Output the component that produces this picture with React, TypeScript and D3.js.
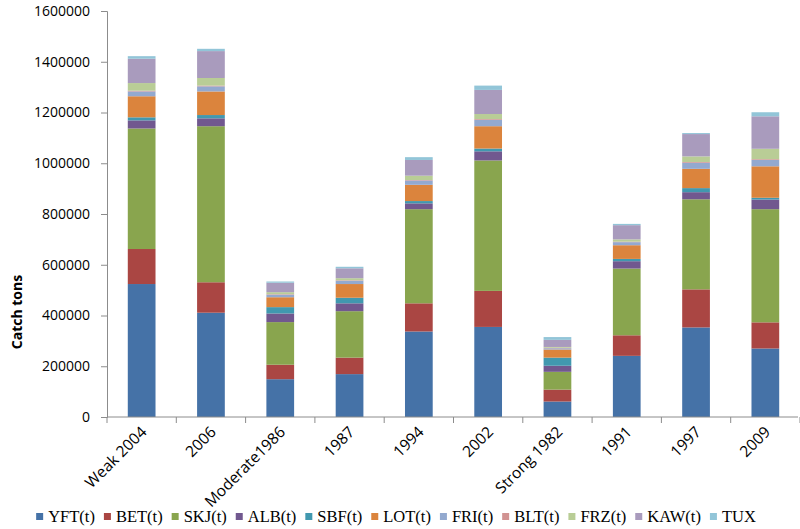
import { useEffect, useRef } from "react";
import * as d3 from "d3";

const categories = ["Weak 2004", "2006", "Moderate1986", "1987", "1994", "2002", "Strong 1982", "1991", "1997", "2009"];

const seriesNames = ["YFT(t)", "BET(t)", "SKJ(t)", "ALB(t)", "SBF(t)", "LOT(t)", "FRI(t)", "BLT(t)", "FRZ(t)", "KAW(t)", "TUX"];

// catch in tons
const YFT = [524000, 411000, 149000, 169000, 337000, 355000, 61000, 241000, 353000, 270000];
const BET = [138000, 120000, 57000, 65000, 111000, 142000, 47000, 81000, 150000, 103000];
const SKJ = [475000, 615000, 168000, 183000, 371000, 514000, 70000, 263000, 355000, 446000];
const ALB = [32000, 31000, 34000, 31000, 23000, 36000, 24000, 29000, 28000, 38000];
const SBF = [12000, 13000, 25000, 22000, 9000, 11000, 32000, 9000, 16000, 7000];
const LOT = [83000, 93000, 39000, 54000, 64000, 88000, 32000, 54000, 76000, 124000];
const FRI = [19000, 20000, 10000, 13000, 17000, 25000, 5000, 12000, 24000, 25000];
const BLT = [3000, 3000, 2000, 2000, 2000, 3000, 2000, 2000, 3000, 3000];
const FRZ = [30000, 30000, 8000, 8000, 17000, 20000, 3000, 9000, 22000, 41000];
const KAW = [96000, 106000, 37000, 39000, 62000, 95000, 28000, 56000, 88000, 128000];
const TUX = [10000, 9000, 5000, 6000, 11000, 17000, 11000, 5000, 4000, 16000];

const yTicks = [0, 200000, 400000, 600000, 800000, 1000000, 1200000, 1400000, 1600000];

const colors = ["#4572A7", "#AA4643", "#89A54E", "#71588F", "#4198AF", "#DB843D", "#93A9CF", "#D19392", "#B9CD96", "#A99BBD", "#92C5D8"];

export default function App() {
  const svgRef = useRef<SVGSVGElement>(null);

  useEffect(() => {
    document.body.style.margin = "0";
    if (!svgRef.current) return;
    const svg = d3.select(svgRef.current);
    svg.selectAll("*").remove();

    const width = 800;
    const height = 529;
    const margin = { left: 107, right: 0, top: 11, bottom: 112 };

    const all = [YFT, BET, SKJ, ALB, SBF, LOT, FRI, BLT, FRZ, KAW, TUX];
    const rows = categories.map((c, i) => {
      const r: Record<string, any> = { cat: c };
      seriesNames.forEach((s, j) => (r[s] = all[j][i]));
      return r;
    });
    const stacked = d3.stack<any>().keys(seriesNames)(rows);

    const x = d3.scaleBand().domain(categories).range([margin.left, width - margin.right]).paddingInner(0.6).paddingOuter(0.3);
    const y = d3.scaleLinear().domain([0, 1600000]).range([height - margin.bottom, margin.top]);

    const axisColor = "#8c8c8c";

    // bars
    svg.append("g")
      .selectAll("g")
      .data(stacked)
      .join("g")
      .attr("fill", (_d, i) => colors[i])
      .selectAll("rect")
      .data((d) => d)
      .join("rect")
      .attr("x", (d) => x(d.data.cat)!)
      .attr("width", x.bandwidth())
      .attr("y", (d) => y(d[1]))
      .attr("height", (d) => y(d[0]) - y(d[1]));

    // y axis
    const yAxis = svg.append("g")
      .attr("transform", `translate(${margin.left},0)`)
      .call(d3.axisLeft(y).tickValues(yTicks).tickSize(6).tickPadding(11).tickFormat(d3.format("d")));
    yAxis.select(".domain").attr("stroke", axisColor);
    yAxis.selectAll(".tick line").attr("stroke", axisColor);
    yAxis.selectAll("text")
      .attr("fill", "#000")
      .style("font-family", "'Open Sans', sans-serif")
      .style("font-size", "14px");

    // x axis with ticks between categories
    const x0 = y(0);
    const gx = svg.append("g");
    gx.append("line")
      .attr("x1", margin.left).attr("x2", width - margin.right - 2)
      .attr("y1", x0).attr("y2", x0)
      .attr("stroke", axisColor);
    const step = x.step();
    gx.selectAll("line.tk")
      .data(d3.range(categories.length + 1))
      .join("line")
      .attr("class", "tk")
      .attr("x1", (i) => margin.left + i * step)
      .attr("x2", (i) => margin.left + i * step)
      .attr("y1", x0).attr("y2", x0 + 6)
      .attr("stroke", axisColor);
    gx.selectAll("text")
      .data(categories)
      .join("text")
      .attr("transform", (d) => `translate(${x(d)! + x.bandwidth() / 2 + 6},${x0 + 16}) rotate(-45)`)
      .attr("text-anchor", "end")
      .attr("fill", "#000")
      .style("font-family", "'Open Sans', sans-serif")
      .style("font-size", "15.5px")
      .text((d) => d);

    // y title
    svg.append("text")
      .attr("transform", `translate(22,312) rotate(-90)`)
      .attr("text-anchor", "middle")
      .style("font-family", "'Open Sans', sans-serif")
      .style("font-size", "14px")
      .style("font-weight", "bold")
      .text("Catch tons");

    // legend
    const lg = svg.append("g");
    const items = lg.selectAll("g").data(seriesNames).join("g");
    items.append("rect").attr("width", 7).attr("height", 7).attr("y", -9).attr("fill", (_d, i) => colors[i]);
    items.append("text")
      .attr("x", 12)
      .style("font-family", "'Liberation Serif', 'Times New Roman', serif")
      .style("font-size", "16.5px")
      .text((d) => d);
    let cx = 0;
    items.each(function () {
      const g = d3.select(this);
      const w = (g.select("text").node() as SVGTextElement).getComputedTextLength();
      g.attr("transform", `translate(${cx},0)`);
      cx += 12 + w + 9;
    });
    const total = cx - 9;
    lg.attr("transform", `translate(${396 - total / 2},522)`);
  }, []);

  return <svg ref={svgRef} width={800} height={529} style={{ display: "block" }} />;
}
